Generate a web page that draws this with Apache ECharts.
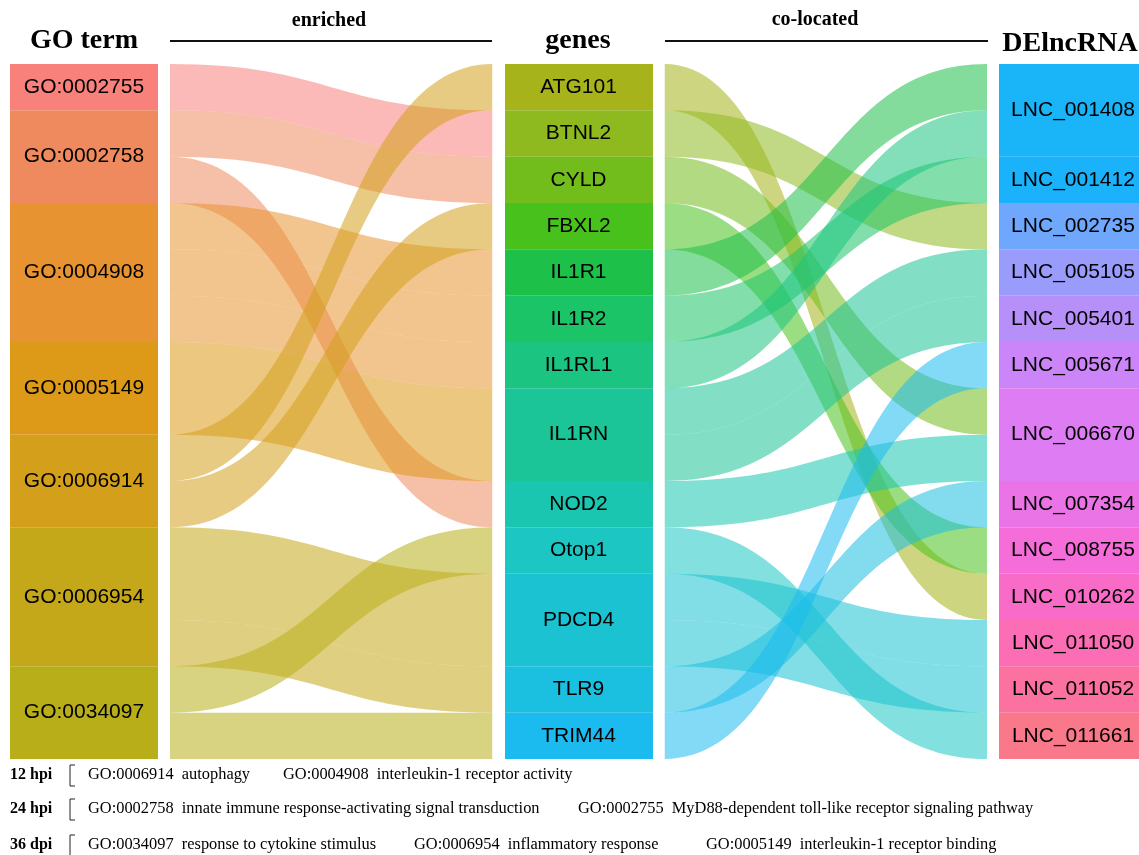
<!DOCTYPE html>
<html>
<head>
<meta charset="utf-8">
<script src="https://cdn.jsdelivr.net/npm/echarts@6/dist/echarts.min.js"></script>
<style>
    html,body{margin:0;padding:0;background:#fff;}
    .echart{width:1139px;height:855px;}
</style>
</head>
<body>
<div class="echart" id="main"></div>
<script>
    // three columns of the alluvial plot
    const goTerms = ['GO:0002755','GO:0002758','GO:0004908','GO:0005149','GO:0006914','GO:0006954','GO:0034097']
    const genes = ['ATG101','BTNL2','CYLD','FBXL2','IL1R1','IL1R2','IL1RL1','IL1RN','NOD2','Otop1','PDCD4','TLR9','TRIM44']
    const lncRNAs = ['LNC_001408','LNC_001412','LNC_002735','LNC_005105','LNC_005401','LNC_005671','LNC_006670',
                     'LNC_007354','LNC_008755','LNC_010262','LNC_011050','LNC_011052','LNC_011661']

    const goColors = ['#F8827B','#EF8A5F','#E89331','#DD9918','#D4A01B','#C5A81A','#B8AE1A']
    const geneColors = ['#A6B31A','#8EB91F','#72BC1C','#48C11C','#1DC048','#1BC466','#1CC481','#1BC597',
                        '#1AC6B0','#1CC6C3','#1BC2D1','#1BBFE0','#1CBBEF']
    const lncColors = ['#1AB4F8','#1AB3FB','#6FA7FC','#9A9CFC','#B78FF9','#CC85F8','#DD7CF3',
                       '#EA73E6','#F46DD8','#F86BC7','#FB6DB4','#FB71A0','#F9788A']

    // GO term -> gene
    const enrichedLinks = [
        ['GO:0002755','BTNL2',1],
        ['GO:0002758','CYLD',1],
        ['GO:0002758','NOD2',1],
        ['GO:0004908','IL1R1',1],
        ['GO:0004908','IL1R2',1],
        ['GO:0004908','IL1RL1',1],
        ['GO:0005149','IL1RN',2],
        ['GO:0006914','ATG101',1],
        ['GO:0006914','FBXL2',1],
        ['GO:0006954','PDCD4',2],
        ['GO:0006954','TLR9',1],
        ['GO:0034097','Otop1',1],
        ['GO:0034097','TRIM44',1]
    ]
    // gene -> DElncRNA
    const colocatedLinks = [
        ['ATG101','LNC_010262',1],
        ['BTNL2','LNC_002735',1],
        ['CYLD','LNC_006670',1],
        ['FBXL2','LNC_008755',1],
        ['IL1R1','LNC_001408',1],
        ['IL1R2','LNC_001412',1],
        ['IL1RL1','LNC_001408',1],
        ['IL1RN','LNC_005105',1],
        ['IL1RN','LNC_005401',1],
        ['NOD2','LNC_006670',1],
        ['Otop1','LNC_011661',1],
        ['PDCD4','LNC_011050',1],
        ['PDCD4','LNC_011052',1],
        ['TLR9','LNC_007354',1],
        ['TRIM44','LNC_005671',1]
    ]

    // bottom legend
    const stages = ['12 hpi','24 hpi','36 dpi']
    const stageTerms = [
        [['GO:0006914','autophagy'],['GO:0004908','interleukin-1 receptor activity']],
        [['GO:0002758','innate immune response-activating signal transduction'],['GO:0002755','MyD88-dependent toll-like receptor signaling pathway']],
        [['GO:0034097','response to cytokine stimulus'],['GO:0006954','inflammatory response'],['GO:0005149','interleukin-1 receptor binding']]
    ]

    const NODE_W = 172, PAD = 12
    const colorMap = {}
    goTerms.forEach((n,i) => colorMap[n] = goColors[i])
    genes.forEach((n,i) => colorMap[n] = geneColors[i])
    lncRNAs.forEach((n,i) => colorMap[n] = lncColors[i])

    // node is drawn wider than the coloured box so links keep a white gap from it
    function boxFill(c){
        const a = PAD / NODE_W, b = 1 - a
        return new echarts.graphic.LinearGradient(0,0,1,0,[
            {offset:0,color:'#fff'},{offset:a,color:'#fff'},
            {offset:a,color:c},{offset:b,color:c},
            {offset:b,color:'#fff'},{offset:1,color:'#fff'}
        ])
    }

    const nodes = []
    ;[goTerms,genes,lncRNAs].forEach((col,depth) => {
        col.forEach(name => {
            nodes.push({name:name,depth:depth,itemStyle:{color:boxFill(colorMap[name])}})
        })
    })
    const links = enrichedLinks.concat(colocatedLinks).map(l => ({
        source:l[0],target:l[1],value:l[2],
        lineStyle:{color:colorMap[l[0]],opacity:0.55}
    }))

    const graphic = []
    const title = (text,x,y,size) => graphic.push({
        type:'text',x:x,y:y,
        style:{text:text,font:'bold '+size+'px "Liberation Serif"',fill:'#000',
               textAlign:'center',textVerticalAlign:'middle',align:'center',verticalAlign:'middle'}
    })
    title('GO term',84,41,28)
    title('genes',578,41,28)
    title('DElncRNA',1070,44,28)
    title('enriched',329,21,20)
    title('co-located',815,20,20)
    graphic.push({type:'line',shape:{x1:170,y1:41,x2:492,y2:41},style:{stroke:'#111',lineWidth:2}})
    graphic.push({type:'line',shape:{x1:665,y1:41,x2:988,y2:41},style:{stroke:'#111',lineWidth:2}})

    const rowY = [775,809,845]
    const termX = [[88,283],[88,578],[88,414,706]]
    stages.forEach((s,i) => {
        graphic.push({type:'text',x:10,y:rowY[i],
            style:{text:s,font:'bold 16px "Liberation Serif"',fill:'#000',textVerticalAlign:'middle',verticalAlign:'middle'}})
        graphic.push({type:'polyline',shape:{points:[[75,rowY[i]-10],[70,rowY[i]-10],[70,rowY[i]+11],[75,rowY[i]+11]]},
            style:{stroke:'#222',lineWidth:1,fill:null}})
        stageTerms[i].forEach((t,j) => {
            graphic.push({type:'text',x:termX[i][j],y:rowY[i],
                style:{text:t[0]+'  '+t[1],font:'16.4px "Liberation Serif"',fill:'#000',textVerticalAlign:'middle',verticalAlign:'middle'}})
        })
    })

    const chartInstance = echarts.init(document.getElementById('main'))
    const initOption = {
        backgroundColor:'#fff',
        animation:false,
        graphic:graphic,
        series:[
            {
                type:'sankey',
                left:-2,
                top:64,
                width:1161,
                height:695,
                nodeWidth:NODE_W,
                nodeGap:0,
                layoutIterations:0,
                draggable:false,
                emphasis:{disabled:true},
                label:{
                    show:true,
                    position:'inside',
                    color:'#000',
                    fontSize:21,
                    fontFamily:'"Liberation Sans", Arial, sans-serif'
                },
                lineStyle:{curveness:0.5},
                data:nodes,
                links:links
            }
        ]
    }
    chartInstance.setOption(initOption)
</script>
</body>
</html>
